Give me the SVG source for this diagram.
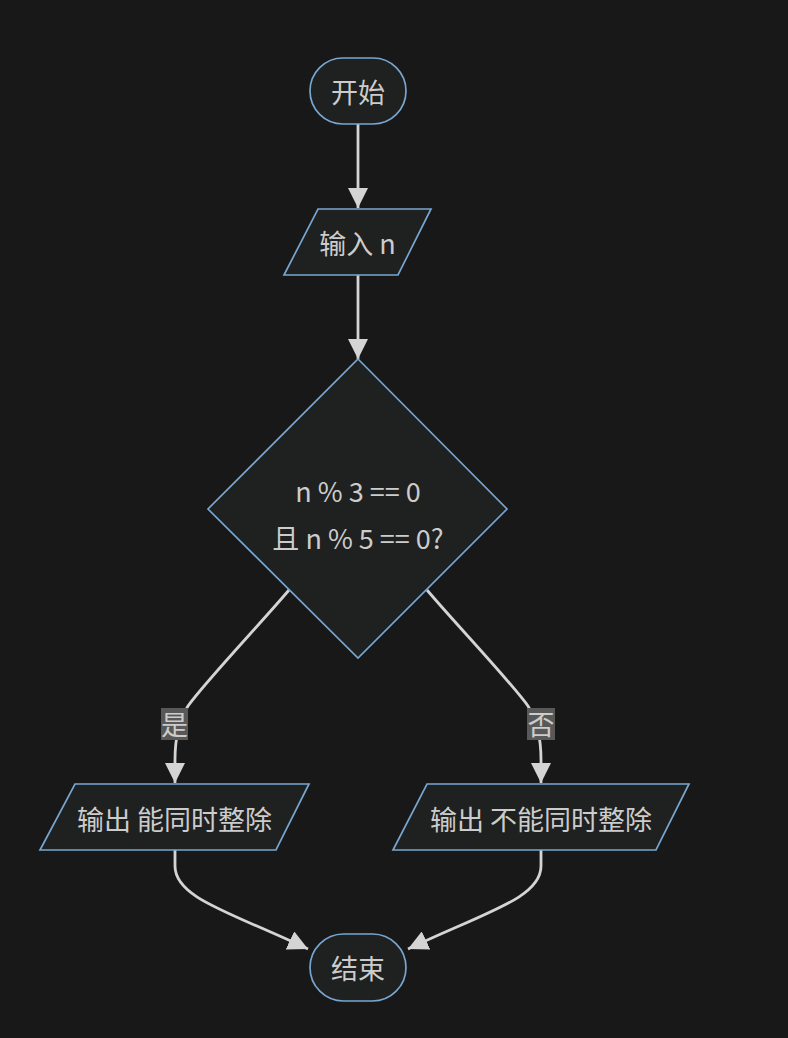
<svg xmlns="http://www.w3.org/2000/svg" width="788" height="1038" viewBox="0 0 788 1038">
<style>
.bg{fill:#181818}
.node{fill:#1f2020;stroke:#78a6d0;stroke-width:1.7}
.t{font-family:"Noto Sans CJK SC","Noto Sans",sans-serif;font-size:27px;fill:#cccccc;text-anchor:middle}
.edge{fill:none;stroke:#d4d4d4;stroke-width:2.8}
.lbl{fill:#585858}
</style>
<defs>
<marker id="arrow" viewBox="0 0 10 10" refX="10" refY="5" markerUnits="userSpaceOnUse" markerWidth="20" markerHeight="20" orient="auto">
<path d="M0,0 L10,5 L0,10 z" fill="#d4d4d4"/>
</marker>
</defs>
<rect class="bg" x="0" y="0" width="788" height="1038"/>
<g id="edges">
<path class="edge" d="M358,124 L358,208" marker-end="url(#arrow)"/>
<path class="edge" d="M358,275 L358,359" marker-end="url(#arrow)"/>
<path class="edge" d="M289,590 C262,622 205,682 188,706 C179,720 175,738 175,760 L175,783" marker-end="url(#arrow)"/>
<path class="edge" d="M427,590 C454,622 511,682 528,706 C537,720 541,738 541,760 L541,783" marker-end="url(#arrow)"/>
<path class="edge" d="M175,850 L175,866 C175,898 230,912 308,949" marker-end="url(#arrow)"/>
<path class="edge" d="M541,850 L541,866 C541,898 486,912 408,949" marker-end="url(#arrow)"/>
<g id="label-yes">
<rect class="lbl" x="161" y="708" width="27" height="32"/>
<text class="t" x="174.5" y="735">是</text>
</g>
<g id="label-no">
<rect class="lbl" x="527" y="708" width="28" height="32"/>
<text class="t" x="541" y="735">否</text>
</g>
</g>
<g id="start">
<rect class="node" x="310" y="58" width="96" height="66" rx="33" ry="33"/>
<text class="t" x="358" y="103">开始</text>
</g>
<g id="input">
<polygon class="node" points="318,209 431,209 398,275 284,275"/>
<text class="t" x="357.5" y="254">输入 n</text>
</g>
<g id="decision">
<polygon class="node" points="358,359 507,509 358,658 208,509"/>
<text class="t" x="358" y="502">n % 3 == 0</text>
<text class="t" x="358" y="549">且 n % 5 == 0?</text>
</g>
<g id="out-yes">
<polygon class="node" points="75,784 309,784 276,850 40,850"/>
<text class="t" x="174.5" y="830">输出 能同时整除</text>
</g>
<g id="out-no">
<polygon class="node" points="427,784 689,784 656,850 393,850"/>
<text class="t" x="541" y="830">输出 不能同时整除</text>
</g>
<g id="end">
<rect class="node" x="310" y="934" width="96" height="67" rx="33.5" ry="33.5"/>
<text class="t" x="358" y="979">结束</text>
</g>
</svg>
